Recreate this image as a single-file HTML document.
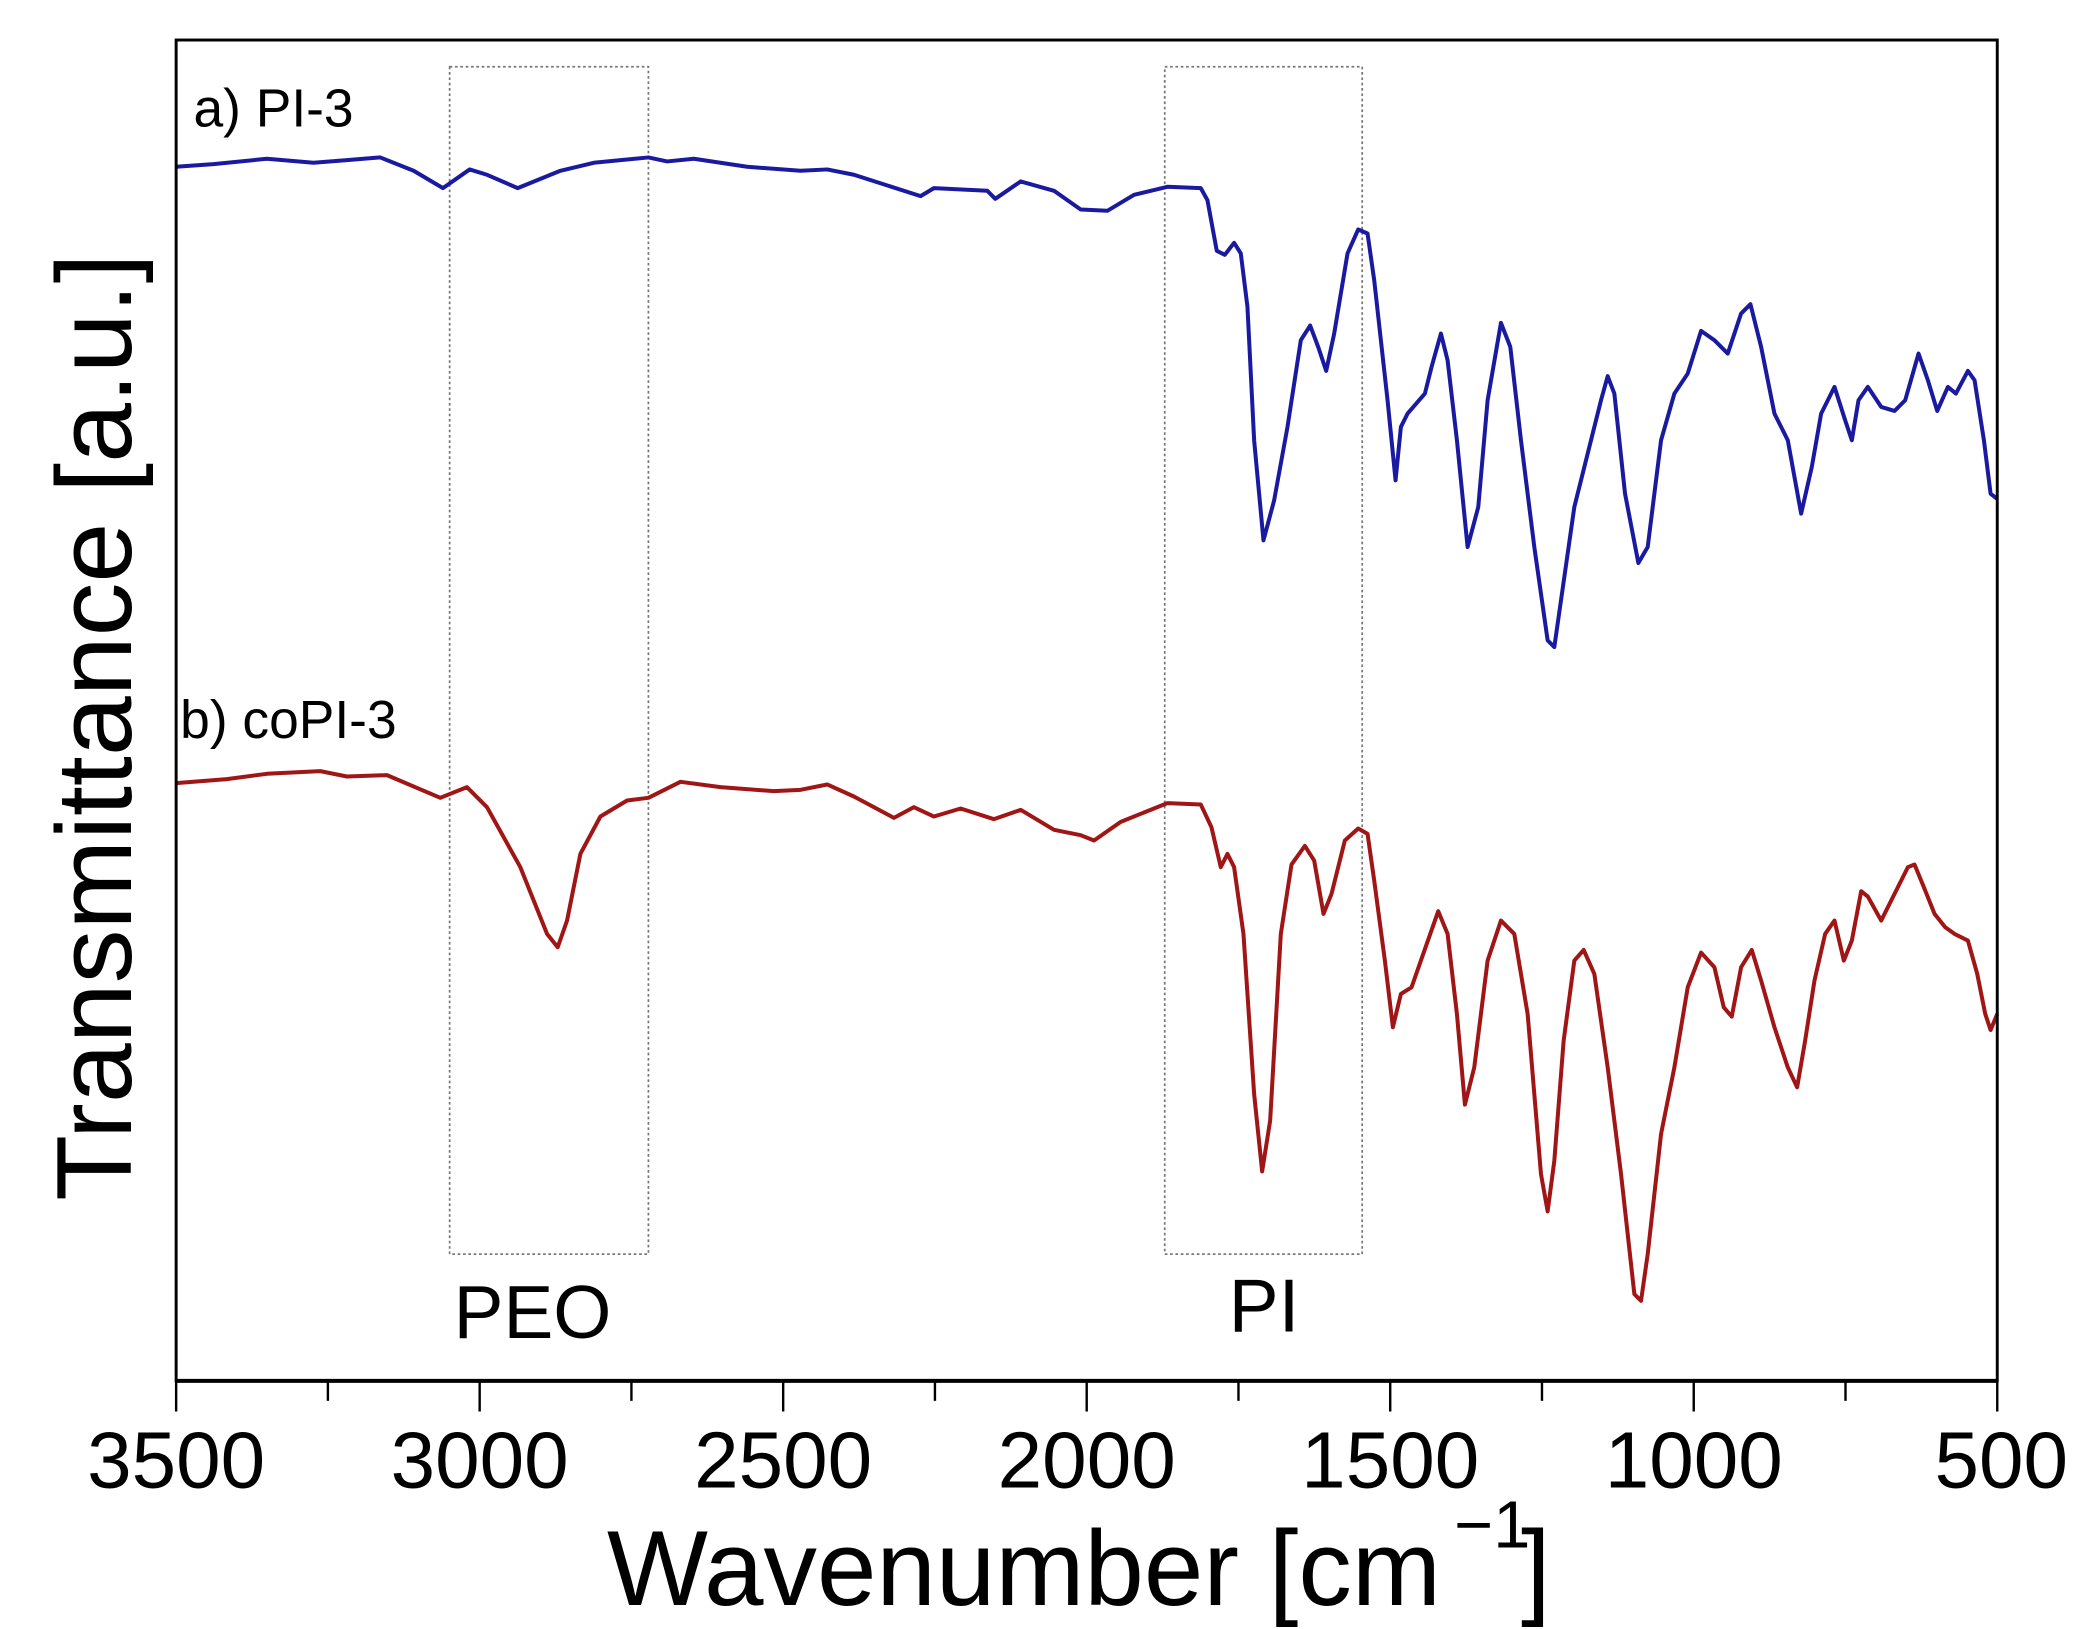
<!DOCTYPE html>
<html><head><meta charset="utf-8"><style>html,body{margin:0;padding:0;background:#fff}svg{display:block}</style></head>
<body>
<svg width="2076" height="1629" viewBox="0 0 1556 1221" xmlns="http://www.w3.org/2000/svg" font-family="Liberation Sans, sans-serif">
<rect x="0" y="0" width="1556" height="1221" fill="#fff"/>
<rect x="337" y="50" width="149" height="890" fill="none" stroke="#777" stroke-width="1.3" stroke-dasharray="2,2"/>
<rect x="873" y="50" width="148" height="890" fill="none" stroke="#777" stroke-width="1.3" stroke-dasharray="2,2"/>
<polyline fill="none" stroke="#1a1aa0" stroke-width="3" stroke-linejoin="round" points="132,125 160,123 200,119 235,122 260,120 285,118 310,128 332,141 352,127 365,131 388,141 420,128 445,122 486,118 500,121 520,119 560,125 600,128 620,127 640,131 690,147 700,141 740,143 746,149 765,136 790,143 810,157 830,158 850,146 875,140 900,141 905,150 912,188 918,191 925,182 930,190 935,230 940,330 947,405 955,375 965,320 975,255 982,244 988,260 994,278 1000,250 1010,190 1018,172 1025,175 1030,210 1035,255 1040,300 1046,360 1050,320 1055,310 1068,295 1073,275 1080,250 1085,270 1092,330 1100,410 1108,380 1115,300 1125,242 1132,260 1140,330 1150,410 1160,480 1165,485 1170,450 1180,380 1190,340 1200,300 1205,282 1210,295 1218,370 1228,422 1235,410 1245,330 1255,295 1265,280 1275,248 1285,255 1295,265 1305,235 1312,228 1320,260 1330,310 1340,330 1350,385 1358,350 1365,310 1375,290 1383,315 1388,330 1393,300 1400,290 1410,305 1420,308 1428,300 1438,265 1445,285 1452,308 1460,290 1466,295 1475,278 1480,285 1487,330 1492,370 1497,374"/>
<polyline fill="none" stroke="#a01515" stroke-width="3" stroke-linejoin="round" points="132,587 170,584 200,580 240,578 260,582 290,581 330,598 350,590 365,605 390,650 410,700 418,710 425,690 435,640 450,612 470,600 486,598 510,586 540,590 580,593 600,592 620,588 640,597 670,613 685,605 700,612 720,606 745,614 765,607 790,622 810,626 820,630 840,616 860,608 875,602 900,603 908,620 915,650 920,640 925,650 932,700 940,820 946,878 952,840 960,700 968,648 978,634 985,645 992,685 998,670 1008,630 1018,621 1025,625 1030,660 1038,720 1044,770 1050,745 1058,740 1065,720 1072,700 1078,683 1085,700 1092,760 1098,828 1105,800 1115,720 1125,690 1135,700 1145,760 1155,880 1160,908 1165,870 1172,780 1180,720 1187,712 1195,730 1205,800 1215,880 1225,970 1230,975 1235,940 1245,850 1255,800 1265,740 1275,714 1285,725 1292,755 1298,762 1305,725 1313,712 1320,735 1330,770 1340,800 1347,815 1353,780 1360,735 1368,700 1375,690 1382,720 1388,705 1395,668 1400,672 1410,690 1420,670 1430,650 1435,648 1442,665 1450,685 1458,695 1465,700 1475,705 1482,730 1488,760 1492,772 1497,760"/>
<rect x="132" y="30" width="1365" height="1005" fill="none" stroke="#000" stroke-width="2.2"/>
<line x1="132" y1="1035" x2="1497" y2="1035" stroke="#000" stroke-width="3"/>
<g stroke="#000" stroke-width="1.8">
<line x1="132" y1="1035" x2="132" y2="1058"/><line x1="245.75" y1="1035" x2="245.75" y2="1050"/>
<line x1="359.5" y1="1035" x2="359.5" y2="1058"/><line x1="473.25" y1="1035" x2="473.25" y2="1050"/>
<line x1="587" y1="1035" x2="587" y2="1058"/><line x1="700.75" y1="1035" x2="700.75" y2="1050"/>
<line x1="814.5" y1="1035" x2="814.5" y2="1058"/><line x1="928.25" y1="1035" x2="928.25" y2="1050"/>
<line x1="1042" y1="1035" x2="1042" y2="1058"/><line x1="1155.75" y1="1035" x2="1155.75" y2="1050"/>
<line x1="1269.5" y1="1035" x2="1269.5" y2="1058"/><line x1="1383.25" y1="1035" x2="1383.25" y2="1050"/>
<line x1="1497" y1="1035" x2="1497" y2="1058"/>
</g>
<g font-size="60" text-anchor="middle" fill="#000">
<text x="132" y="1115">3500</text><text x="359.5" y="1115">3000</text><text x="587" y="1115">2500</text>
<text x="814.5" y="1115">2000</text><text x="1042" y="1115">1500</text><text x="1269.5" y="1115">1000</text>
<text x="1500" y="1115">500</text>
</g>
<text x="455" y="1203" font-size="80" textLength="625" lengthAdjust="spacingAndGlyphs">Wavenumber [cm</text>
<text x="1090" y="1160" font-size="50">−1</text>
<text x="1140" y="1203" font-size="80">]</text>
<text transform="translate(98,545) rotate(-90)" font-size="80" text-anchor="middle" textLength="710" lengthAdjust="spacingAndGlyphs">Transmittance [a.u.]</text>
<text x="145" y="95" font-size="40">a) PI-3</text>
<text x="135" y="553" font-size="40">b) coPI-3</text>
<text x="340" y="1003" font-size="56">PEO</text>
<text x="921" y="998" font-size="56">PI</text>
</svg>
</body></html>
